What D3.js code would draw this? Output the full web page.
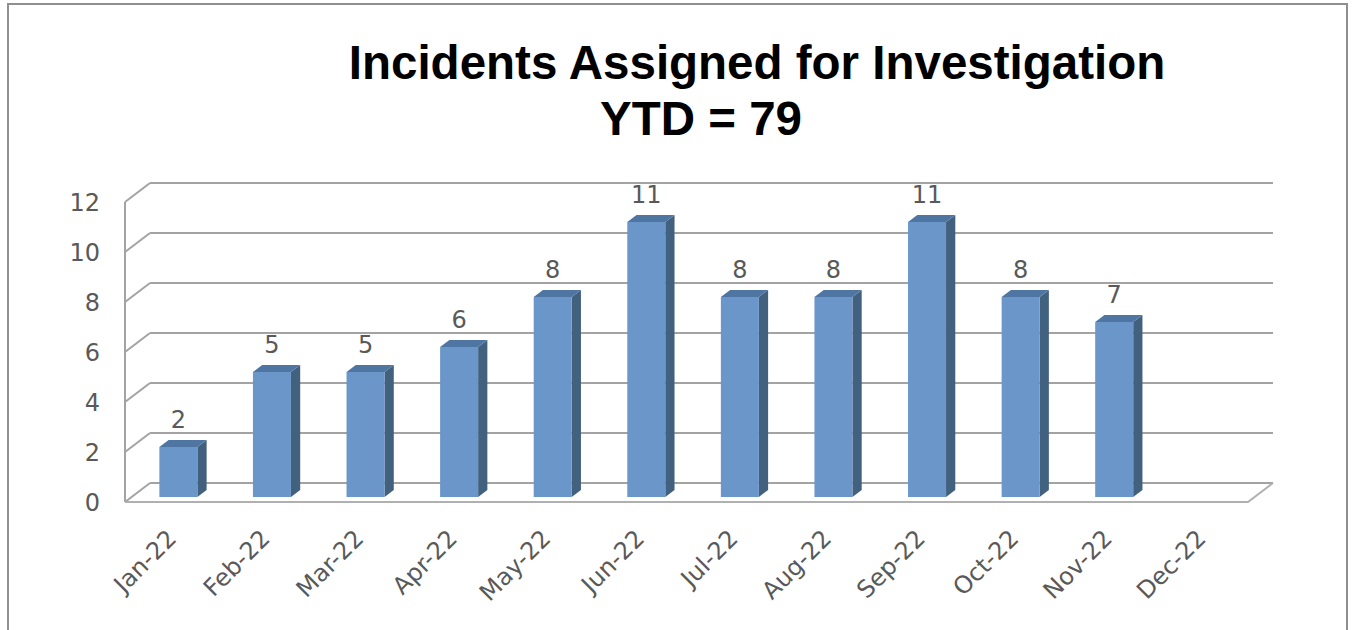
<!DOCTYPE html>
<html>
<head>
<meta charset="utf-8">
<script src="https://d3js.org/d3.v7.min.js"></script>
<style>
  body { margin: 0; background: #fff; }
  text { font-family: "DejaVu Sans", sans-serif; }
</style>
</head>
<body>
<div id="chart"></div>
<script>
// chart data
var months = ["Jan-22", "Feb-22", "Mar-22", "Apr-22", "May-22", "Jun-22",
  "Jul-22", "Aug-22", "Sep-22", "Oct-22", "Nov-22", "Dec-22"];
var incidents = [2, 5, 5, 6, 8, 11, 8, 8, 11, 8, 7, null];
var yTicks = [0, 2, 4, 6, 8, 10, 12];
var titleLines = ["Incidents Assigned for Investigation", "YTD = 79"];

var svgWidth = 1353;
var svgHeight = 630;

// floor front edge and the 3d depth offset of the back wall
var plot = { left: 125, right: 1248, top: 202, bottom: 502 };
var depth = { dx: 25, dy: -19 };

// bars sit a bit back from the front edge of the floor
var barFront = 0.263;
var barDepth = 0.37;
var barWidth = 38;

var svg = d3.select("#chart")
  .append("svg")
  .attr("width", svgWidth)
  .attr("height", svgHeight);

// outer frame
svg.append("rect")
  .attr("x", 8)
  .attr("y", 4)
  .attr("width", 1339)
  .attr("height", 640)
  .attr("fill", "none")
  .attr("stroke", "#8f8f8f")
  .attr("stroke-width", 2);

// scales
var xScale = d3.scaleBand()
  .domain(months)
  .range([plot.left, plot.right]);

var yScale = d3.scaleLinear()
  .domain([0, 12])
  .range([plot.bottom, plot.top]);

var gridColor = "#a3a3a3";
var grid = svg.append("g");

// back wall gridlines + the diagonal on the left side wall
yTicks.forEach(function(v) {
  var y = yScale(v);
  grid.append("line")
    .attr("x1", plot.left + depth.dx)
    .attr("x2", plot.right + depth.dx)
    .attr("y1", y + depth.dy)
    .attr("y2", y + depth.dy)
    .attr("stroke", gridColor)
    .attr("stroke-width", 2);
  grid.append("line")
    .attr("x1", plot.left)
    .attr("x2", plot.left + depth.dx)
    .attr("y1", y)
    .attr("y2", y + depth.dy)
    .attr("stroke", gridColor)
    .attr("stroke-width", 2);
});

// left axis line
grid.append("line")
  .attr("x1", plot.left)
  .attr("x2", plot.left)
  .attr("y1", yScale(0))
  .attr("y2", yScale(12))
  .attr("stroke", gridColor)
  .attr("stroke-width", 2);

// floor front edge and right corner
grid.append("path")
  .attr("d", "M" + plot.left + "," + yScale(0) +
    "L" + plot.right + "," + yScale(0) +
    "L" + (plot.right + depth.dx) + "," + (yScale(0) + depth.dy))
  .attr("fill", "none")
  .attr("stroke", "#b0b0b0")
  .attr("stroke-width", 2);

// y axis labels
svg.append("g")
  .selectAll("text")
  .data(yTicks)
  .enter()
  .append("text")
  .attr("x", 100)
  .attr("y", d => yScale(d))
  .attr("dy", "0.36em")
  .attr("text-anchor", "end")
  .attr("font-size", 24)
  .attr("fill", "#595959")
  .text(d => d);

// bars (front, top and side faces)
var barData = months.map(function(m, i) { return { month: m, value: incidents[i] }; })
  .filter(d => d.value !== null);

var fx = barFront * depth.dx;
var fy = barFront * depth.dy;
var sx = barDepth * depth.dx;
var sy = barDepth * depth.dy;

function barX(d) {
  return xScale(d.month) + xScale.bandwidth() / 2 + fx - barWidth / 2;
}

var bars = svg.append("g")
  .selectAll("g")
  .data(barData)
  .enter()
  .append("g");

bars.append("path")
  .attr("d", function(d) {
    var x = barX(d) + barWidth, y0 = yScale(0) + fy, y1 = yScale(d.value) + fy;
    return "M" + x + "," + y0 + "L" + (x + sx) + "," + (y0 + sy) +
      "L" + (x + sx) + "," + (y1 + sy) + "L" + x + "," + y1 + "Z";
  })
  .attr("fill", "#42617f");

bars.append("path")
  .attr("d", function(d) {
    var x = barX(d), y1 = yScale(d.value) + fy;
    return "M" + x + "," + y1 + "L" + (x + sx) + "," + (y1 + sy) +
      "L" + (x + barWidth + sx) + "," + (y1 + sy) + "L" + (x + barWidth) + "," + y1 + "Z";
  })
  .attr("fill", "#4f75a2");

bars.append("rect")
  .attr("x", d => barX(d))
  .attr("y", d => yScale(d.value) + fy)
  .attr("width", barWidth)
  .attr("height", d => yScale(0) - yScale(d.value))
  .attr("fill", "#6a96c9");

// value labels
svg.append("g")
  .selectAll("text")
  .data(barData)
  .enter()
  .append("text")
  .attr("x", d => barX(d) + barWidth / 2)
  .attr("y", d => yScale(d.value) - 24)
  .attr("text-anchor", "middle")
  .attr("font-size", 24)
  .attr("fill", "#595959")
  .text(d => d.value);

// rotated month labels
svg.append("g")
  .selectAll("text")
  .data(months)
  .enter()
  .append("text")
  .attr("transform", d => `translate(${xScale(d) + xScale.bandwidth() / 2 + 6}, 540) rotate(-45)`)
  .attr("text-anchor", "end")
  .attr("font-size", 24)
  .attr("fill", "#595959")
  .text(d => d);

// title
svg.append("text")
  .attr("x", 757)
  .attr("y", 79)
  .attr("text-anchor", "middle")
  .style("font-family", "'Liberation Sans', Arial, sans-serif")
  .attr("font-size", 47.5)
  .attr("font-weight", "bold")
  .attr("fill", "#000")
  .text(titleLines[0]);

svg.append("text")
  .attr("x", 701)
  .attr("y", 135)
  .attr("text-anchor", "middle")
  .style("font-family", "'Liberation Sans', Arial, sans-serif")
  .attr("font-size", 47.5)
  .attr("font-weight", "bold")
  .attr("fill", "#000")
  .text(titleLines[1]);
</script>
</body>
</html>
